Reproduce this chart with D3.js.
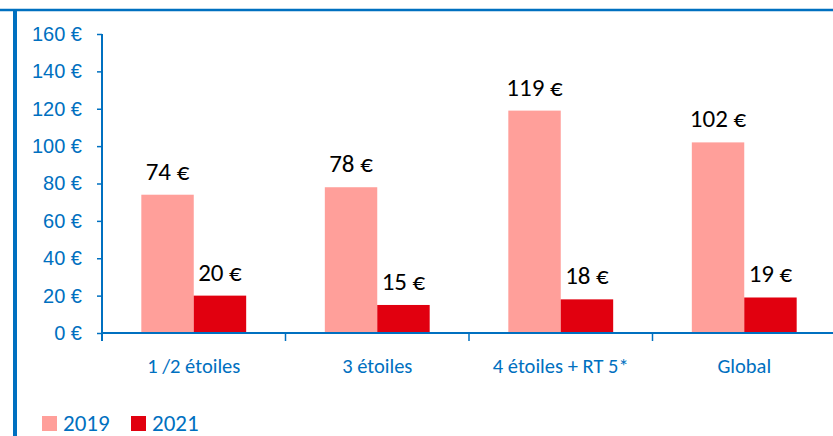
<!DOCTYPE html>
<html>
<head>
<meta charset="utf-8">
<script src="https://cdn.jsdelivr.net/npm/d3@7"></script>
<style>
  html, body { margin: 0; padding: 0; background: #fff; }
  svg { display: block; font-family: Calibri, Carlito, Lato, sans-serif; }
</style>
</head>
<body>
<div id="chart"></div>
<script>
// data
const categories = ["1 /2 étoiles", "3 étoiles", "4 étoiles + RT 5*", "Global"];
const series = ["2019", "2021"];
const values2019 = [74, 78, 119, 102];
const values2021 = [20, 15, 18, 19];
const yTicks = [0, 20, 40, 60, 80, 100, 120, 140, 160];

const blue = "#0070C0";
const colors = { "2019": "#FF9F9A", "2021": "#E1000F" };

const width = 833, height = 436;
const svg = d3.select("#chart").append("svg").attr("width", width).attr("height", height);

// frame lines
svg.append("line").attr("x1", 0).attr("x2", width).attr("y1", 10).attr("y2", 10)
  .attr("stroke", blue).attr("stroke-width", 2.5);
svg.append("line").attr("x1", 15).attr("x2", 15).attr("y1", 9).attr("y2", height)
  .attr("stroke", blue).attr("stroke-width", 4);

// scales
const x0 = d3.scaleBand().domain(categories).range([102, 836]);
const x1 = d3.scaleBand().domain(series).range([0, x0.bandwidth()]).paddingOuter(0.75);
const y = d3.scaleLinear().domain([0, 160]).range([333, 34]);

const rows = categories.map((c, i) => ({ cat: c, vals: [
  { key: "2019", v: values2019[i] }, { key: "2021", v: values2021[i] }] }));

// bars
const groups = svg.append("g").selectAll("g").data(rows).join("g")
  .attr("transform", d => `translate(${x0(d.cat)},0)`);
groups.selectAll("rect").data(d => d.vals).join("rect")
  .attr("x", d => x1(d.key)).attr("width", x1.bandwidth())
  .attr("y", d => y(d.v)).attr("height", d => y(0) - y(d.v))
  .attr("fill", d => colors[d.key]);
groups.selectAll("text").data(d => d.vals).join("text")
  .attr("x", d => x1(d.key) + x1.bandwidth() / 2)
  .attr("y", d => y(d.v) - 15)
  .attr("text-anchor", "middle")
  .attr("font-size", 25).attr("fill", "#000")
  .text(d => d.v + " €");

// y axis
const yAxis = svg.append("g").attr("transform", "translate(102,0)")
  .call(d3.axisLeft(y).tickValues(yTicks).tickSize(5).tickSizeOuter(0).tickPadding(15)
    .tickFormat(d => d + " €"));
yAxis.select(".domain").remove();
yAxis.selectAll("line").attr("stroke", blue).attr("stroke-width", 1.5);
yAxis.selectAll("text").attr("fill", blue).attr("font-size", 20).attr("font-family", null);
svg.append("line").attr("x1", 102).attr("x2", 102).attr("y1", 34).attr("y2", 341)
  .attr("stroke", blue).attr("stroke-width", 2);

// x axis
svg.append("line").attr("x1", 102).attr("x2", width).attr("y1", 333).attr("y2", 333)
  .attr("stroke", blue).attr("stroke-width", 2);
svg.append("g").selectAll("line").data(categories.slice(1)).join("line")
  .attr("x1", d => x0(d)).attr("x2", d => x0(d)).attr("y1", 333).attr("y2", 341)
  .attr("stroke", blue).attr("stroke-width", 1.5);
svg.append("g").selectAll("text").data(categories).join("text")
  .attr("x", d => x0(d) + x0.bandwidth() / 2).attr("y", 373)
  .attr("text-anchor", "middle").attr("font-size", 20.5).attr("fill", blue)
  .text(d => d);

// legend (kept just inside the bottom edge)
const legend = svg.append("g").selectAll("g").data(series).join("g")
  .attr("transform", (d, i) => `translate(${42 + i * 89},416)`);
legend.append("rect").attr("width", 15).attr("height", 15).attr("fill", d => colors[d]);
legend.append("text").attr("x", 21).attr("y", 15).attr("font-size", 23).attr("fill", blue)
  .text(d => d);
</script>
</body>
</html>
